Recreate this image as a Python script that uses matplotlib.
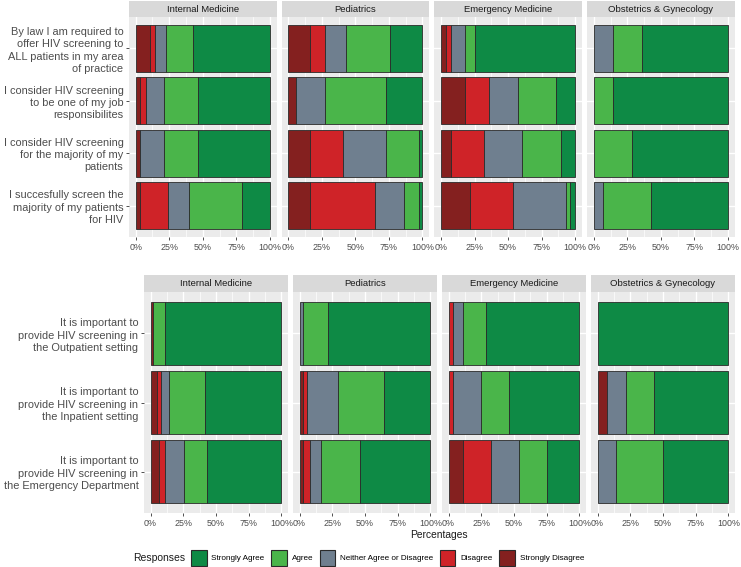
import matplotlib
matplotlib.use("Agg")
import matplotlib.pyplot as plt
from matplotlib.patches import Patch
import numpy as np

plt.rcParams["font.family"] = ["Liberation Sans", "DejaVu Sans"]

# stacking order, left to right
responses = ["Strongly Disagree", "Disagree", "Neither Agree or Disagree",
             "Agree", "Strongly Agree"]
colors = ["#84201f", "#cf2328", "#6f7f8f", "#4ab54a", "#0e8a45"]
specialties = ["Internal Medicine", "Pediatrics", "Emergency Medicine",
               "Obstetrics & Gynecology"]

top_questions = [
    "By law I am required to\noffer HIV screening to\nALL patients in my area\nof practice",
    "I consider HIV screening\nto be one of my job\nresponsibilites",
    "I consider HIV screening\nfor the majority of my\npatients",
    "I succesfully screen the\nmajority of my patients\nfor HIV",
]
bottom_questions = [
    "It is important to\nprovide HIV screening in\nthe Outpatient setting",
    "It is important to\nprovide HIV screening in\nthe Inpatient setting",
    "It is important to\nprovide HIV screening in\nthe Emergency Department",
]

# percentages, one row per question: SD, D, N, A, SA
top_im = [[10.7, 3.7, 8.2, 20.3, 57.1],
          [3.2, 4.7, 12.9, 25.4, 53.8],
          [3.2, 0.0, 17.6, 25.4, 53.8],
          [3.2, 20.6, 15.9, 39.7, 20.6]]
top_peds = [[16.2, 10.8, 16.2, 32.4, 24.4],
            [5.4, 0.0, 21.6, 45.9, 27.1],
            [16.2, 24.3, 32.4, 24.3, 2.8],
            [16.2, 48.6, 21.6, 10.8, 2.8]]
top_em = [[3.6, 3.6, 10.7, 7.1, 75.0],
          [17.9, 17.9, 21.4, 28.6, 14.2],
          [7.1, 25.0, 28.6, 28.6, 10.7],
          [21.4, 32.1, 39.3, 3.6, 3.6]]
top_ob = [[0.0, 0.0, 14.3, 21.4, 64.3],
          [0.0, 0.0, 0.0, 14.3, 85.7],
          [0.0, 0.0, 0.0, 28.6, 71.4],
          [0.0, 0.0, 7.1, 35.7, 57.2]]

bottom_im = [[1.6, 0.0, 0.0, 9.5, 88.9],
             [4.8, 3.2, 6.3, 27.0, 58.7],
             [6.3, 4.8, 14.3, 17.5, 57.1]]
bottom_peds = [[0.0, 0.0, 2.7, 18.9, 78.4],
               [2.7, 2.7, 24.3, 35.1, 35.2],
               [2.7, 5.4, 8.1, 29.7, 54.1]]
bottom_em = [[0.0, 3.6, 7.1, 17.9, 71.4],
             [0.0, 3.6, 21.4, 21.4, 53.6],
             [10.7, 21.4, 21.4, 21.4, 25.1]]
bottom_ob = [[0.0, 0.0, 0.0, 0.0, 100.0],
             [7.1, 0.0, 14.3, 21.4, 57.2],
             [0.0, 0.0, 14.3, 35.7, 50.0]]

W, H = 741, 567
fig = plt.figure(figsize=(W / 100, H / 100), dpi=100)


def px_axes(x0, y0, x1, y1):
    """axes from pixel box (top-left origin)"""
    return fig.add_axes([x0 / W, 1 - y1 / H, (x1 - x0) / W, (y1 - y0) / H])


def draw_block(questions, data, lefts, width, y0, y1, strip_h):
    n = len(questions)
    ypos = np.arange(n)[::-1]
    for k, (spec, vals) in enumerate(zip(specialties, data)):
        ax = px_axes(lefts[k], y0, lefts[k] + width, y1)
        vals = np.array(vals) / 100.0
        ax.set_facecolor("#ebebeb")
        left = np.zeros(n)
        for j in range(len(responses)):
            w = vals[:, j]
            m = w > 0
            ax.barh(ypos[m], w[m], left=left[m], height=0.9, color=colors[j],
                    edgecolor="#2a2a2a", linewidth=0.6, zorder=3)
            left += w
        ax.set_xlim(-0.05, 1.05)
        ax.set_ylim(-0.6, n - 0.4)
        ax.set_xticks([0, 0.25, 0.5, 0.75, 1.0])
        ax.set_xticklabels(["0%", "25%", "50%", "75%", "100%"])
        ax.set_xticks([0.125, 0.375, 0.625, 0.875], minor=True)
        ax.set_yticks(ypos)
        ax.grid(which="major", color="white", lw=1.0, zorder=0)
        ax.grid(which="minor", axis="x", color="white", lw=0.5, zorder=0)
        ax.tick_params(axis="x", which="major", labelsize=6.4, colors="#333333",
                       labelcolor="#4d4d4d", length=2.5, width=0.6, pad=1.5)
        ax.tick_params(which="minor", length=0)
        if k == 0:
            ax.set_yticklabels(questions, fontsize=7.9, color="#4d4d4d",
                               linespacing=1.27)
            ax.tick_params(axis="y", colors="#333333", labelcolor="#4d4d4d",
                           length=2.5, width=0.6, pad=1.5)
        else:
            ax.tick_params(axis="y", length=0, labelleft=False)
        for s in ax.spines.values():
            s.set_visible(False)
        ax.set_axisbelow(True)
        # facet strip
        sax = px_axes(lefts[k], y0 - strip_h, lefts[k] + width, y0)
        sax.set_facecolor("#d9d9d9")
        sax.set_xticks([])
        sax.set_yticks([])
        for s in sax.spines.values():
            s.set_visible(False)
        sax.text(0.5, 0.5, spec, ha="center", va="center", fontsize=6.8,
                 color="#1a1a1a", transform=sax.transAxes)


draw_block(top_questions, [top_im, top_peds, top_em, top_ob],
           [129, 281.7, 434.4, 587.1], 147.5, 17, 237, 16)
draw_block(bottom_questions, [bottom_im, bottom_peds, bottom_em, bottom_ob],
           [144, 293, 442, 591], 144, 292, 513, 17)

fig.text(439 / W, 1 - 535 / H, "Percentages", ha="center", va="center",
         fontsize=7.4, color="#1a1a1a")

# legend
fig.text(133 / W, 1 - 558 / H, "Responses", ha="left", va="center",
         fontsize=7.5, color="#1a1a1a")
handles = [Patch(facecolor=colors[j], edgecolor="#2a2a2a", linewidth=0.8,
                 label=responses[j]) for j in range(4, -1, -1)]
fig.legend(handles=handles, ncol=5, loc="center left", frameon=False,
           bbox_to_anchor=(191 / W, 1 - 558 / H), fontsize=5.9,
           handlelength=1.9, handleheight=2.6, handletextpad=0.6,
           columnspacing=0.8, borderaxespad=0, borderpad=0)

fig.savefig("out.png", dpi=100)
